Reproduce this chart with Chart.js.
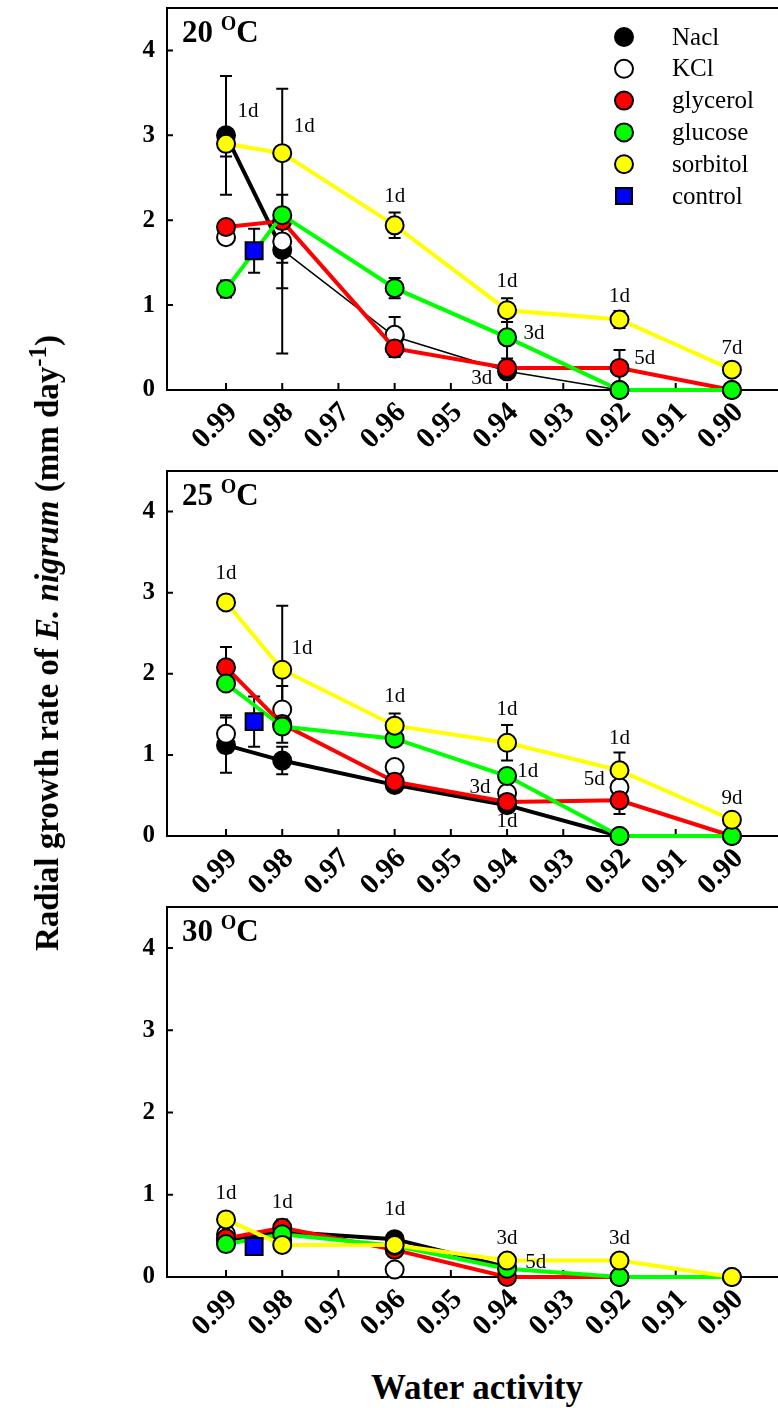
<!DOCTYPE html>
<html>
<head>
<meta charset="utf-8">
<script src="https://cdn.jsdelivr.net/npm/chart.js@4.4.1/dist/chart.umd.min.js"></script>
<style>
  body { margin: 0; background: #fff; }
  #wrap { position: relative; width: 778px; height: 1408px; overflow: hidden; font-family: "Liberation Serif", "Times New Roman", serif; }
  canvas { position: absolute; left: 0; }
  #ytitle { position: absolute; left: 45px; top: 643px; transform: translate(-50%, -50%) rotate(-90deg); white-space: nowrap; font-weight: bold; font-size: 33px; }
  #ytitle sup { font-size: 0.75em; }
  #xtitle { position: absolute; left: 477px; top: 1388px; transform: translate(-50%, -50%); white-space: nowrap; font-weight: bold; font-size: 35px; }
</style>
</head>
<body>
<div id="wrap">
  <canvas id="chart1" width="778" height="460"></canvas>
  <canvas id="chart2" width="778" height="443"></canvas>
  <canvas id="chart3" width="778" height="448"></canvas>
  <div id="ytitle">Radial growth rate of <i>E. nigrum</i> (mm day<sup>-1</sup>)</div>
  <div id="xtitle">Water activity</div>
</div>
<script>
const waterActivity = [0.99, 0.98, 0.96, 0.94, 0.92, 0.90];
const controlActivity = [0.985];
const xTickValues = [0.99, 0.98, 0.97, 0.96, 0.95, 0.94, 0.93, 0.92, 0.91, 0.90];
const yTickValues = [0, 1, 2, 3, 4];
const seriesNames = ["Nacl", "KCl", "glycerol", "glucose", "sorbitol", "control"];
const fills = ["#000000", "#ffffff", "#ff0000", "#00ff00", "#ffff00", "#0000ff"];

// 20 oC
const nacl20 = [3.0, 1.65, 0.63, 0.22, 0, null];
const kcl20 = [1.8, 1.75, 0.65, null, null, null];
const glycerol20 = [1.92, 1.99, 0.49, 0.26, 0.26, 0];
const glucose20 = [1.19, 2.06, 1.2, 0.62, 0, 0];
const sorbitol20 = [2.9, 2.79, 1.94, 0.94, 0.83, 0.24];
const control20 = [1.64];
const naclErr20 = [0.7, 0.15, null, null, null, null];
const kclErr20 = [null, 0.55, 0.21, null, null, null];
const glycerolErr20 = [null, 1.56, 0.1, null, 0.21, null];
const glucoseErr20 = [0.1, null, 0.12, 0.25, null, null];
const sorbitolErr20 = [0.15, null, 0.15, 0.14, 0.1, null];
const controlErr20 = [0.26];
const days20 = [[0.9861, 3.28, "1d"], [0.9761, 3.1, "1d"], [0.96, 2.28, "1d"], [0.94, 1.28, "1d"],
  [0.92, 1.1, "1d"], [0.9352, 0.67, "3d"], [0.9445, 0.14, "3d"], [0.9155, 0.37, "5d"], [0.90, 0.49, "7d"]];

// 25 oC
const nacl25 = [1.12, 0.93, 0.63, 0.38, 0, null];
const kcl25 = [1.26, 1.56, 0.85, 0.53, 0.6, null];
const glycerol25 = [2.08, 1.38, 0.67, 0.42, 0.44, 0];
const glucose25 = [1.88, 1.35, 1.2, 0.74, 0, 0];
const sorbitol25 = [2.88, 2.05, 1.36, 1.15, 0.81, 0.2];
const control25 = [1.41];
const naclErr25 = [0.34, 0.17, null, null, null, null];
const kclErr25 = [0.23, 0.29, null, null, 0.05, null];
const glycerolErr25 = [0.25, null, null, null, 0.17, null];
const glucoseErr25 = [null, 0.2, null, null, null, null];
const sorbitolErr25 = [0.08, 0.79, 0.15, 0.22, 0.22, null];
const controlErr25 = [0.31];
const days25 = [[0.99, 3.24, "1d"], [0.9765, 2.31, "1d"], [0.96, 1.72, "1d"], [0.94, 1.56, "1d"],
  [0.9363, 0.79, "1d"], [0.9448, 0.6, "3d"], [0.94, 0.18, "1d"], [0.92, 1.2, "1d"], [0.9245, 0.7, "5d"], [0.90, 0.46, "9d"]];

// 30 oC
const nacl30 = [0.45, 0.55, 0.46, 0.12, null, null];
const kcl30 = [0.52, 0.45, 0.09, null, null, null];
const glycerol30 = [0.47, 0.6, 0.33, 0, 0, null];
const glucose30 = [0.4, 0.52, 0.38, 0.1, 0, 0];
const sorbitol30 = [0.7, 0.39, 0.39, 0.2, 0.2, 0];
const control30 = [0.37];
const naclErr30 = [null, null, 0.07, null, null, null];
const glycerolErr30 = [null, 0.1, null, null, null, null];
const days30 = [[0.99, 1.02, "1d"], [0.98, 0.91, "1d"], [0.96, 0.82, "1d"], [0.94, 0.47, "3d"],
  [0.9349, 0.18, "5d"], [0.92, 0.47, "3d"]];

const serif = "'Liberation Serif', 'Times New Roman', serif";

function pts(xs, ys) {
  return xs.map((x, i) => ({ x: x, y: ys[i] }));
}

function makeDatasets(series, errors, thinNacl) {
  return series.map((vals, k) => {
    const isControl = k === 5;
    const ds = {
      label: seriesNames[k],
      data: pts(isControl ? controlActivity : waterActivity, vals),
      errors: errors[k],
      borderColor: fills[k],
      backgroundColor: fills[k],
      borderWidth: 4,
      showLine: k !== 1 && !isControl,
      pointStyle: isControl ? "rect" : "circle",
      pointRadius: isControl ? 12 : 9,
      pointBorderWidth: 2,
      pointBorderColor: "#000",
      pointBackgroundColor: fills[k],
      order: 6 - k,
      clip: false,
    };
    if (k === 0 && thinNacl) {
      ds.segment = { borderWidth: c => (c.p0DataIndex >= 1 ? 1.5 : 4) };
    }
    return ds;
  });
}

const frame = {
  id: "frame",
  beforeDatasetsDraw(chart) {
    const ctx = chart.ctx;
    const a = chart.chartArea;
    const xs = chart.scales.x, ys = chart.scales.y;
    ctx.save();
    ctx.strokeStyle = "#000";
    ctx.lineWidth = 2;
    ctx.beginPath();
    ctx.moveTo(a.right + 2, a.top);
    ctx.lineTo(a.left, a.top);
    ctx.lineTo(a.left, a.bottom);
    ctx.lineTo(a.right + 2, a.bottom);
    ctx.stroke();
    ctx.beginPath();
    xTickValues.forEach(v => {
      const px = xs.getPixelForValue(v);
      ctx.moveTo(px, a.bottom);
      ctx.lineTo(px, a.bottom - 7);
    });
    yTickValues.forEach(v => {
      const py = ys.getPixelForValue(v);
      ctx.moveTo(a.left, py);
      ctx.lineTo(a.left + 6, py);
    });
    ctx.stroke();

    // error bars
    chart.data.datasets.forEach((ds, i) => {
      if (!ds.errors) return;
      const meta = chart.getDatasetMeta(i);
      ds.errors.forEach((e, j) => {
        const p = ds.data[j];
        if (e == null || p.y == null) return;
        const x = meta.data[j].x;
        const y1 = ys.getPixelForValue(p.y + e);
        const y2 = ys.getPixelForValue(Math.max(0, p.y - e));
        ctx.beginPath();
        ctx.moveTo(x, y1);
        ctx.lineTo(x, y2);
        ctx.moveTo(x - 6, y1);
        ctx.lineTo(x + 6, y1);
        ctx.moveTo(x - 6, y2);
        ctx.lineTo(x + 6, y2);
        ctx.stroke();
      });
    });
    ctx.restore();
  },
  afterDatasetsDraw(chart, args, opts) {
    const ctx = chart.ctx;
    const a = chart.chartArea;
    const xs = chart.scales.x, ys = chart.scales.y;
    ctx.save();
    ctx.fillStyle = "#000";
    // panel title
    ctx.textAlign = "left";
    ctx.textBaseline = "alphabetic";
    let tx = a.left + 15;
    const ty = a.top + 34;
    ctx.font = "bold 31px " + serif;
    ctx.fillText(opts.temp + " ", tx, ty);
    tx += ctx.measureText(opts.temp + " ").width;
    ctx.font = "bold 20px " + serif;
    ctx.fillText("O", tx, ty - 12);
    tx += ctx.measureText("O").width;
    ctx.font = "bold 31px " + serif;
    ctx.fillText("C", tx, ty);

    // day labels
    ctx.font = "21px " + serif;
    ctx.textAlign = "center";
    ctx.textBaseline = "middle";
    opts.days.forEach(d => {
      ctx.fillText(d[2], xs.getPixelForValue(d[0]), ys.getPixelForValue(d[1]));
    });

    // legend
    if (opts.legend) {
      chart.data.datasets.forEach((ds, i) => {
        const cy = a.top + 29 + i * 31.8;
        const cx = a.left + 457;
        ctx.fillStyle = ds.pointBackgroundColor;
        ctx.strokeStyle = "#000";
        ctx.lineWidth = 2;
        ctx.beginPath();
        if (ds.pointStyle === "rect") {
          ctx.rect(cx - 8, cy - 8, 16, 16);
        } else {
          ctx.arc(cx, cy, 9, 0, Math.PI * 2);
        }
        ctx.fill();
        ctx.stroke();
        ctx.fillStyle = "#000";
        ctx.textAlign = "left";
        ctx.font = "25px " + serif;
        ctx.fillText(ds.label, cx + 48, cy + 1);
      });
    }
    ctx.restore();
  }
};

function makeChart(id, temp, series, errors, days, legend) {
  return new Chart(document.getElementById(id), {
    type: "line",
    data: { datasets: makeDatasets(series, errors, temp === "20") },
    plugins: [frame],
    options: {
      responsive: false,
      maintainAspectRatio: false,
      animation: false,
      events: [],
      layout: { padding: 0 },
      plugins: {
        legend: { display: false },
        tooltip: { enabled: false },
        frame: { temp: temp, days: days, legend: legend }
      },
      scales: {
        x: {
          type: "linear",
          reverse: true,
          min: 0.8918,
          max: 1.0005,
          afterBuildTicks: s => { s.ticks = xTickValues.map(v => ({ value: v })); },
          afterFit: s => { s.height = 70; },
          grid: { display: false, drawTicks: false },
          border: { display: false },
          ticks: {
            autoSkip: false,
            minRotation: 45,
            maxRotation: 45,
            padding: 6,
            labelOffset: 7,
            color: "#000",
            font: { family: serif, size: 29, weight: "bold" },
            callback: v => Number(v).toFixed(2)
          }
        },
        y: {
          min: 0,
          max: 4.5,
          afterBuildTicks: s => { s.ticks = yTickValues.map(v => ({ value: v })); },
          afterFit: s => { s.width = 167; },
          grid: { display: false, drawTicks: false },
          border: { display: false },
          ticks: {
            padding: 12,
            color: "#000",
            font: { family: serif, size: 25, weight: "bold" }
          }
        }
      }
    }
  });
}

// put the plot area of each panel where it sits in the figure
function place(chart, left, right, top, bottom) {
  for (let pass = 0; pass < 3; pass++) {
    const a = chart.chartArea;
    const cv = chart.canvas;
    const w = Math.round(chart.width + (right - left) - (a.right - a.left));
    const h = Math.round(chart.height + (bottom - top) - (a.bottom - a.top));
    cv.style.left = (left - a.left) + "px";
    cv.style.top = (top - a.top) + "px";
    chart.resize(w, h);
  }
}

const chart1 = makeChart("chart1", "20",
  [nacl20, kcl20, glycerol20, glucose20, sorbitol20, control20],
  [naclErr20, kclErr20, glycerolErr20, glucoseErr20, sorbitolErr20, controlErr20],
  days20, true);

const chart2 = makeChart("chart2", "25",
  [nacl25, kcl25, glycerol25, glucose25, sorbitol25, control25],
  [naclErr25, kclErr25, glycerolErr25, glucoseErr25, sorbitolErr25, controlErr25],
  days25, false);

const chart3 = makeChart("chart3", "30",
  [nacl30, kcl30, glycerol30, glucose30, sorbitol30, control30],
  [naclErr30, null, glycerolErr30, null, null, null],
  days30, false);

place(chart1, 167, 778, 8, 390);
place(chart2, 167, 778, 471, 836);
place(chart3, 167, 778, 907, 1277);
</script>
</body>
</html>
